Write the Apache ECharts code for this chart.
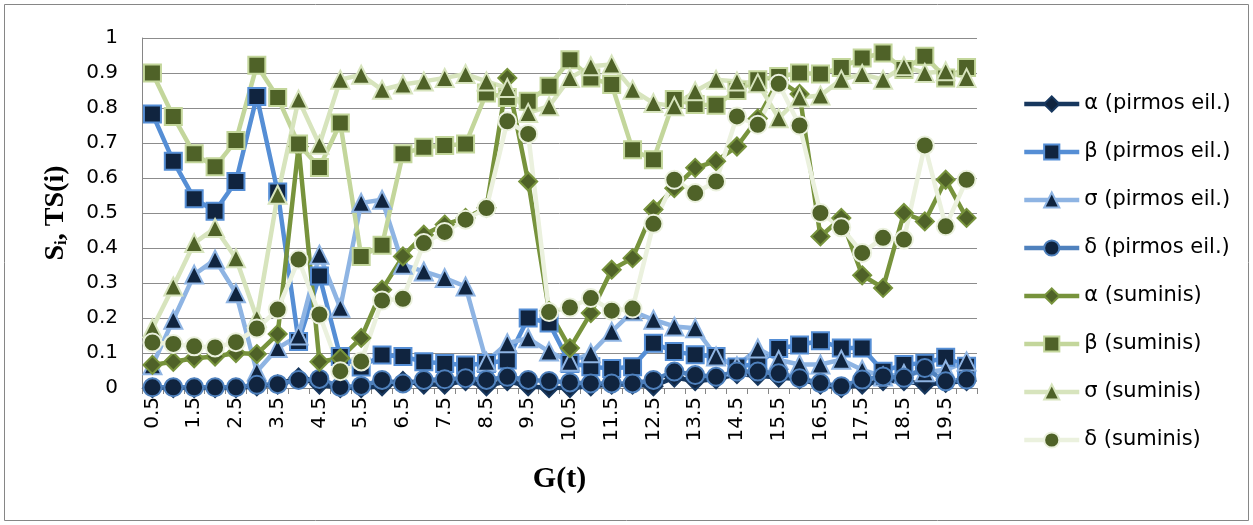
<!DOCTYPE html>
<html>
<head>
<meta charset="utf-8">
<script src="https://cdn.jsdelivr.net/npm/echarts@6/dist/echarts.min.js"></script>
<style>html,body{margin:0;padding:0;background:#fff}#c{width:1253px;height:525px}</style>
</head>
<body>
<div id="c"></div>
<script>
var categories = ['0.5','1','1.5','2','2.5','3','3.5','4','4.5','5','5.5','6','6.5','7','7.5','8','8.5','9','9.5','10',
  '10.5','11','11.5','12','12.5','13','13.5','14','14.5','15','15.5','16','16.5','17','17.5','18','18.5','19','19.5','20'];
var yTicks = [0, 0.1, 0.2, 0.3, 0.4, 0.5, 0.6, 0.7, 0.8, 0.9, 1];

var alphaPirmos = [0,0,0,0,0,0.005,0.01,0.03,0.01,0,0,0.005,0.02,0.01,0.01,0.02,0.005,0.02,0.005,0,
  0,0.005,0.01,0.01,0.005,0.03,0.02,0.025,0.04,0.035,0.03,0.025,0.01,0,0.01,0.02,0.02,0.01,0.015,0.02];
var betaPirmos = [0.783,0.648,0.541,0.505,0.59,0.833,0.56,0.133,0.32,0.09,0.06,0.094,0.09,0.075,0.07,0.066,0.07,0.08,0.2,0.186,
  0.07,0.061,0.056,0.061,0.128,0.104,0.095,0.09,0.06,0.07,0.113,0.123,0.135,0.114,0.114,0.048,0.067,0.071,0.088,0.062];
var sigmaPirmos = [0.065,0.195,0.324,0.367,0.271,0.047,0.114,0.15,0.381,0.229,0.529,0.538,0.352,0.333,0.314,0.29,0.075,0.128,0.142,0.104,
  0.075,0.099,0.161,0.219,0.195,0.176,0.171,0.09,0.062,0.113,0.08,0.067,0.067,0.081,0.052,0.033,0.04,0.045,0.052,0.076];
var deltaPirmos = [0.002,0.002,0.002,0.002,0.002,0.009,0.011,0.023,0.026,0.003,0.006,0.023,0.013,0.023,0.025,0.028,0.023,0.032,0.023,0.02,
  0.016,0.013,0.013,0.013,0.023,0.047,0.037,0.032,0.047,0.047,0.042,0.028,0.014,0.005,0.024,0.033,0.029,0.057,0.019,0.024];
var alphaSuminis = [0.066,0.075,0.085,0.09,0.1,0.097,0.154,0.69,0.075,0.085,0.143,0.281,0.376,0.438,0.467,0.486,0.515,0.886,0.59,0.22,
  0.114,0.214,0.338,0.371,0.51,0.571,0.629,0.648,0.69,0.77,0.88,0.84,0.433,0.486,0.322,0.286,0.5,0.476,0.595,0.486];
var betaSuminis = [0.9,0.776,0.669,0.632,0.707,0.922,0.83,0.697,0.63,0.757,0.376,0.408,0.669,0.688,0.693,0.697,0.843,0.83,0.819,0.862,
  0.938,0.886,0.867,0.681,0.652,0.824,0.81,0.808,0.85,0.881,0.89,0.9,0.897,0.916,0.943,0.957,0.91,0.948,0.886,0.916];
var sigmaSuminis = [0.171,0.29,0.414,0.457,0.371,0.2,0.552,0.824,0.695,0.881,0.895,0.852,0.867,0.876,0.886,0.897,0.876,0.857,0.786,0.805,
  0.886,0.919,0.924,0.852,0.814,0.805,0.848,0.881,0.876,0.871,0.771,0.83,0.836,0.881,0.897,0.881,0.919,0.9,0.905,0.886];
var deltaSuminis = [0.13,0.126,0.119,0.116,0.131,0.17,0.224,0.367,0.21,0.048,0.076,0.25,0.255,0.414,0.446,0.481,0.514,0.762,0.726,0.217,
  0.23,0.257,0.221,0.227,0.469,0.595,0.557,0.59,0.776,0.752,0.869,0.75,0.5,0.459,0.386,0.429,0.424,0.693,0.462,0.595];

var seriesNames = ['α (pirmos eil.)','β (pirmos eil.)','σ (pirmos eil.)','δ (pirmos eil.)',
  'α (suminis)','β (suminis)','σ (suminis)','δ (suminis)'];
var seriesData = [alphaPirmos, betaPirmos, sigmaPirmos, deltaPirmos, alphaSuminis, betaSuminis, sigmaSuminis, deltaSuminis];
var lineColors = ['#17375E','#558ED5','#8EB4E3','#4F81BD','#77933C','#C3D69B','#D7E4BD','#EBF1DE'];
var fillColors = ['#10243F','#10243F','#10243F','#10243F','#4F6228','#4F6228','#4F6228','#4F6228'];
var symbols = ['diamond','rect','triangle','circle','diamond','rect','triangle','circle'];
var symbolSizes = [18,17,18,18,18,17,18,18];

var FONT = 'DejaVu Sans';
var series = seriesNames.map(function (n, k) {
  return {
    name: n, type: 'line', data: seriesData[k],
    symbol: symbols[k], symbolSize: symbolSizes[k], showAllSymbol: true,
    lineStyle: { color: lineColors[k], width: 4.5 },
    itemStyle: { color: fillColors[k], borderColor: lineColors[k], borderWidth: 2 },
    emphasis: { disabled: true }
  };
});

var chart = echarts.init(document.getElementById('c'), null, { renderer: 'canvas' });
chart.setOption({
  animation: false,
  backgroundColor: '#fff',
  graphic: [{ type: 'rect', shape: { x: 4.5, y: 4.5, width: 1244, height: 516 },
    style: { fill: 'none', stroke: '#868686', lineWidth: 1 }, silent: true }],
  grid: { left: 142, right: 276, top: 38, bottom: 137 },
  legend: {
    orient: 'vertical', left: 1017, top: 88,
    itemWidth: 55, itemHeight: 19, itemGap: 26,
    lineStyle: { width: 4.5 },
    textStyle: { fontFamily: FONT, fontSize: 21, color: '#000', lineHeight: 22 },
    data: seriesNames
  },
  xAxis: {
    type: 'category', data: categories, boundaryGap: true,
    name: 'G(t)', nameLocation: 'middle', nameGap: 76,
    nameTextStyle: { fontFamily: 'Liberation Serif', fontWeight: 'bold', fontSize: 30, color: '#000' },
    axisLine: { lineStyle: { color: '#868686', width: 1 } },
    axisTick: { show: true, interval: 0, length: 6, lineStyle: { color: '#868686' } },
    axisLabel: { interval: 1, rotate: 90, margin: 9, fontFamily: FONT, fontSize: 20, color: '#000' },
    splitLine: { show: false }
  },
  yAxis: {
    type: 'value', min: 0, max: 1, interval: 0.1,
    name: '{a|S}{b|i}{a|, TS(i)}', nameLocation: 'middle', nameGap: 72, nameRotate: 90,
    nameTextStyle: { rich: {
      a: { fontFamily: 'Liberation Serif', fontWeight: 'bold', fontSize: 28, color: '#000' },
      b: { fontFamily: 'Liberation Serif', fontWeight: 'bold', fontSize: 17, color: '#000', verticalAlign: 'bottom', padding: [12, 0, 0, 0] }
    } },
    axisLine: { show: true, lineStyle: { color: '#868686', width: 1 } },
    axisTick: { show: false },
    axisLabel: { margin: 24, fontFamily: FONT, fontSize: 20, color: '#000',
      formatter: function (v) { return String(Math.round(v * 10) / 10); } },
    splitLine: { lineStyle: { color: '#8C8C8C', width: 1 } }
  },
  series: series
});
</script>
</body>
</html>
